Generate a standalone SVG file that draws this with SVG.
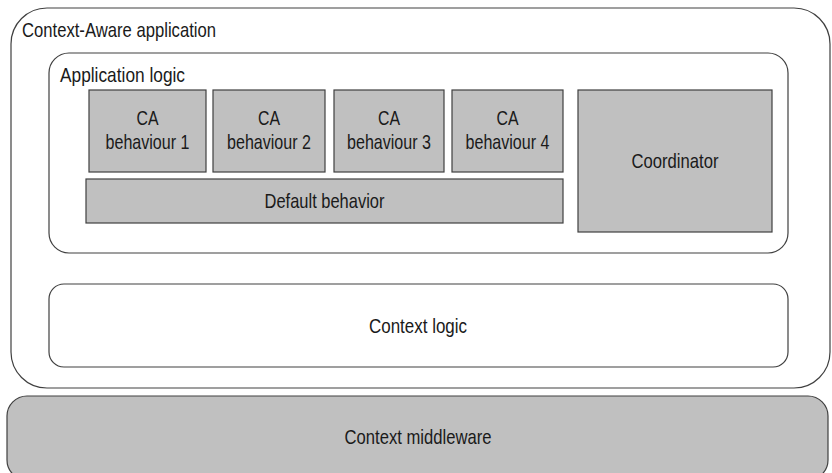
<svg xmlns="http://www.w3.org/2000/svg" width="832" height="473" viewBox="0 0 832 473">
<style>
text{font-family:"Liberation Sans Narrow","Liberation Sans",Arial,sans-serif;font-size:21px;fill:#1a1a1a}
.c{text-anchor:middle}
.box{fill:#c0c0c0;stroke:#404040;stroke-width:1.2}
.cont{fill:#ffffff;stroke:#404040;stroke-width:1.2}
</style>
<rect width="832" height="473" fill="#ffffff"/>
<g id="context-aware-application">
<rect class="cont" x="11" y="8" width="819" height="380" rx="36" ry="36" stroke-width="1"/>
<text x="22" y="37" textLength="194" lengthAdjust="spacingAndGlyphs">Context-Aware application</text>
</g>
<g id="application-logic">
<rect class="cont" x="49" y="53" width="739" height="200" rx="20" ry="20"/>
<text x="60" y="82" textLength="125" lengthAdjust="spacingAndGlyphs">Application logic</text>
</g>
<g id="ca1">
<rect class="box" x="89" y="90" width="117" height="82"/>
<text class="c" x="147.5" y="125" textLength="22" lengthAdjust="spacingAndGlyphs">CA</text>
<text class="c" x="147.5" y="149" textLength="84" lengthAdjust="spacingAndGlyphs">behaviour 1</text>
</g>
<g id="ca2">
<rect class="box" x="213" y="90" width="112" height="82"/>
<text class="c" x="269" y="125" textLength="22" lengthAdjust="spacingAndGlyphs">CA</text>
<text class="c" x="269" y="149" textLength="84" lengthAdjust="spacingAndGlyphs">behaviour 2</text>
</g>
<g id="ca3">
<rect class="box" x="334" y="90" width="110" height="82"/>
<text class="c" x="389" y="125" textLength="22" lengthAdjust="spacingAndGlyphs">CA</text>
<text class="c" x="389" y="149" textLength="84" lengthAdjust="spacingAndGlyphs">behaviour 3</text>
</g>
<g id="ca4">
<rect class="box" x="452" y="90" width="111" height="82"/>
<text class="c" x="507.5" y="125" textLength="22" lengthAdjust="spacingAndGlyphs">CA</text>
<text class="c" x="507.5" y="149" textLength="84" lengthAdjust="spacingAndGlyphs">behaviour 4</text>
</g>
<g id="default-behavior">
<rect class="box" x="86" y="179" width="477" height="44"/>
<text class="c" x="324.5" y="208" textLength="120" lengthAdjust="spacingAndGlyphs">Default behavior</text>
</g>
<g id="coordinator">
<rect class="box" x="578" y="90" width="194" height="142"/>
<text class="c" x="675" y="168" textLength="87" lengthAdjust="spacingAndGlyphs">Coordinator</text>
</g>
<g id="context-logic">
<rect class="cont" x="49" y="284" width="739" height="83" rx="15" ry="15"/>
<text class="c" x="418" y="333" textLength="98" lengthAdjust="spacingAndGlyphs">Context logic</text>
</g>
<g id="context-middleware">
<rect class="box" x="7" y="396" width="821" height="84" rx="20" ry="20"/>
<text class="c" x="418" y="444" textLength="147" lengthAdjust="spacingAndGlyphs">Context middleware</text>
</g>
<g id="connectors"></g>
</svg>
